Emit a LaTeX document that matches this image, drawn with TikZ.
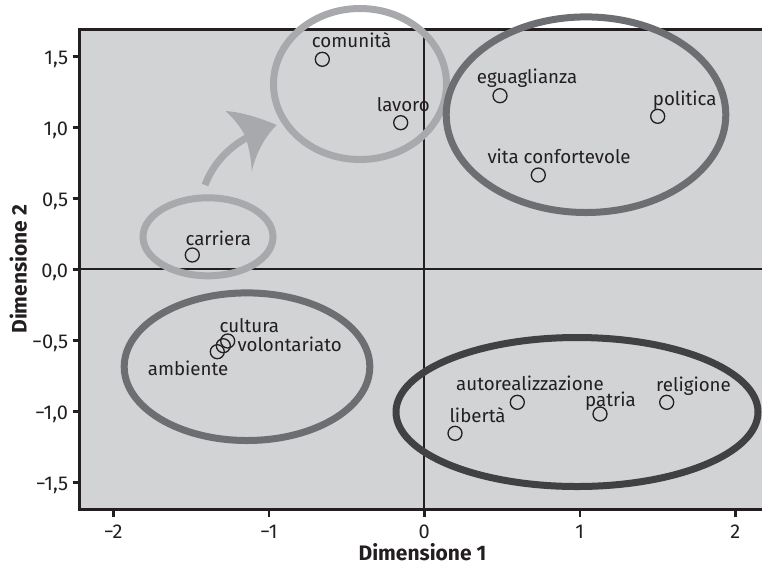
\documentclass[tikz,border=0pt]{standalone}
\usepackage{fontspec}
\setmainfont{Fira Sans}
\usetikzlibrary{shapes.geometric}
\definecolor{bgc}{HTML}{D1D3D4}
\definecolor{ink}{HTML}{231F20}
\definecolor{ringlight}{HTML}{A7A9AC}
\definecolor{ringmid}{HTML}{6D6E71}
\definecolor{ringdark}{HTML}{414042}
\tikzset{
  frameline/.style={draw=ink, line width=3.5pt, line join=miter},
  axisline/.style={draw=ink, line width=2.2pt},
  tickline/.style={draw=ink, line width=2.5pt},
  ticklab/.style={inner sep=0pt, font=\fontsize{20}{22}\selectfont, text=ink},
  axtitle/.style={inner sep=0pt, font=\fontsize{21}{24}\selectfont\bfseries, text=ink},
  ptmark/.style={circle, draw=ink, line width=1.3pt, minimum size=14pt, inner sep=0pt},
  lab/.style={inner sep=0pt, anchor=base west, font=\fontsize{18.7}{21}\selectfont, text=ink},
  ring/.style={ellipse, draw, line width=7pt, inner sep=0pt, fill=none},
}
\begin{document}
\begin{tikzpicture}[x=1pt,y=-1pt]
\useasboundingbox (0,0) rectangle (762,566);
% plot background
\fill[bgc] (79.3,29.3) rectangle (762,509.7);
% zero axes
\draw[axisline] (424.3,29.3) -- (424.3,509.7);
\draw[axisline] (79.3,269.3) -- (762,269.3);
% frame
\draw[frameline] (762,29.3) -- (79.3,29.3) -- (79.3,509.7) -- (762,509.7);
% y ticks and labels
\foreach \v/\t in {1.5/{1,5},1/{1,0},0.5/{0,5},0/{0,0},-0.5/{−0,5},-1/{−1,0},-1.5/{−1,5}}{
  \draw[tickline] (72.5,{269.3-142*\v}) -- (79.3,{269.3-142*\v});
  \node[ticklab, anchor=base east] at (68.3,{269.3-142*\v+8.3}) {\t};
}
% x ticks and labels
\foreach \v/\t in {-2/{−2},-1/{−1},0/{0},1/{1},2/{2}}{
  \draw[tickline] ({424.3+155.5*\v},509.7) -- ({424.3+155.5*\v},516.5);
  \node[ticklab, anchor=base] at ({424.3+155.5*\v},538.3) {\t};
}
\node[axtitle, anchor=base] (xt) at (422.5,560.7) {Dimensione 1};
\node[axtitle, anchor=base, rotate=90] (yt) at (26.7,269.2) {Dimensione 2};
% group rings
\node[ring, draw=ringlight, minimum width=173pt, minimum height=151pt] (gtop) at (360,84) {};
\node[ring, draw=ringmid, minimum width=279.6pt, minimum height=195.6pt] (gright) at (586,114.7) {};
\node[ring, draw=ringlight, minimum width=130pt, minimum height=78pt] (gcar) at (208,236.8) {};
\node[ring, draw=ringmid, minimum width=245.6pt, minimum height=147.6pt] (gleft) at (247,366.7) {};
\node[ring, draw=ringdark, minimum width=362pt, minimum height=149pt] (gbot) at (577,412) {};
% arrow from carriera group to comunita group
\coordinate (atail) at (205,185);
\coordinate (ajoin) at (247,137.5);
\coordinate (atip) at (276.7,125);
\draw[ringlight, line width=7pt] (atail) .. controls (213,164) and (228,148) .. (ajoin);
\fill[ringlight] (atip) .. controls (258,117) and (240,112) .. (225.7,111)
  .. controls (236,121) and (242,129) .. (245.5,137)
  .. controls (249,148) and (251.5,160) .. (251.7,171.7)
  .. controls (256,153) and (264,138) .. (atip) -- cycle;
% points
\node[ptmark] (comunita) at (322.3,59.3) {};
\node[ptmark] (lavoro) at (400.7,122.7) {};
\node[ptmark] (eguaglianza) at (500,95.7) {};
\node[ptmark] (politica) at (657.7,116.3) {};
\node[ptmark] (vita) at (538.3,175) {};
\node[ptmark] (carriera) at (192.3,255) {};
\node[ptmark] (cultura) at (227.7,341) {};
\node[ptmark] (volontariato) at (223.3,345.7) {};
\node[ptmark] (ambiente) at (217.3,351.7) {};
\node[ptmark] (autoreal) at (517.3,402.3) {};
\node[ptmark] (patria) at (600,414) {};
\node[ptmark] (religione) at (666.7,402.3) {};
\node[ptmark] (liberta) at (455,433.3) {};
% labels
\node[lab] (t-comunita) at (311.7,47.7) {comunità};
\node[lab] (t-lavoro) at (376.7,111) {lavoro};
\node[lab] (t-eguaglianza) at (476.7,83.3) {eguaglianza};
\node[lab] (t-politica) at (652.7,105) {politica};
\node[lab] (t-vita) at (487.3,163.3) {vita confortevole};
\node[lab] (t-carriera) at (185.3,245) {carriera};
\node[lab] (t-cultura) at (219.3,332.3) {cultura};
\node[lab] (t-volontariato) at (237.3,351.7) {volontariato};
\node[lab] (t-ambiente) at (147.7,375.7) {ambiente};
\node[lab] (t-autoreal) at (456,390.3) {autorealizzazione};
\node[lab] (t-patria) at (585,406.5) {patria};
\node[lab] (t-religione) at (656,391.7) {religione};
\node[lab] (t-liberta) at (449.3,422.7) {libertà};
\end{tikzpicture}
\end{document}
